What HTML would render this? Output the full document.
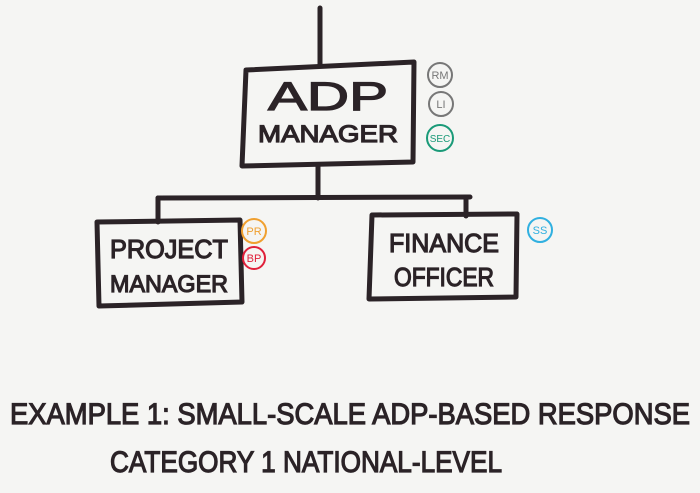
<!DOCTYPE html>
<html><head><style>
html,body{margin:0;padding:0;background:#f5f5f3;}
svg{display:block}
text{font-family:"Liberation Sans",sans-serif;fill:#2b2327}
.m{stroke:#2b2327;stroke-width:1.2}
</style></head><body>
<svg width="700" height="493" viewBox="0 0 700 493">
<rect width="700" height="493" fill="#f5f5f3"/>
<g stroke="#2b2327" stroke-width="5" fill="none" stroke-linecap="round" stroke-linejoin="round">
<path d="M320 8 L320 66"/>
<path d="M246 70 L414 62 L413 162 L242 166 Z"/>
<path d="M318 165 L318 198"/>
<path d="M158 198 L470 197"/>
<path d="M158 198 L158 222"/>
<path d="M466 197 L466 216"/>
<path d="M97 222 L240 220 L242 302 L99 306 Z"/>
<path d="M372 215 L517 214 L516 297 L369 299 Z"/>
</g>
<g fill="none" stroke-width="2">
<circle cx="440" cy="75" r="12" stroke="#777"/>
<circle cx="441" cy="104" r="12" stroke="#777"/>
<circle cx="440" cy="138" r="13" stroke="#1a9a78"/>
<circle cx="254" cy="231" r="12" stroke="#f0a030"/>
<circle cx="254" cy="258" r="11" stroke="#e0203a"/>
<circle cx="540" cy="230" r="12" stroke="#30b0e0"/>
</g>
<g font-size="11" text-anchor="middle">
<text x="440" y="79" style="fill:#777">RM</text>
<text x="441" y="108" style="fill:#777">LI</text>
<text x="440" y="142" style="fill:#1a9a78" font-size="10">SEC</text>
<text x="254" y="235" style="fill:#f0a030">PR</text>
<text x="254" y="262" style="fill:#e0203a">BP</text>
<text x="540" y="234" style="fill:#30b0e0">SS</text>
</g>
<text class="m" x="328" y="110" font-size="40" text-anchor="middle" textLength="120" lengthAdjust="spacingAndGlyphs">ADP</text>
<text class="m" x="328" y="142" font-size="24" text-anchor="middle" textLength="140" lengthAdjust="spacingAndGlyphs">MANAGER</text>
<text class="m" x="169" y="258" font-size="26" text-anchor="middle" textLength="118" lengthAdjust="spacingAndGlyphs">PROJECT</text>
<text class="m" x="169" y="292" font-size="24" text-anchor="middle" textLength="118" lengthAdjust="spacingAndGlyphs">MANAGER</text>
<text class="m" x="444" y="252" font-size="26" text-anchor="middle" textLength="110" lengthAdjust="spacingAndGlyphs">FINANCE</text>
<text class="m" x="444" y="286" font-size="26" text-anchor="middle" textLength="100" lengthAdjust="spacingAndGlyphs">OFFICER</text>
<text class="m" x="10" y="424" font-size="30" textLength="680" lengthAdjust="spacingAndGlyphs">EXAMPLE 1: SMALL-SCALE ADP-BASED RESPONSE</text>
<text class="m" x="110" y="472" font-size="30" textLength="392" lengthAdjust="spacingAndGlyphs">CATEGORY 1 NATIONAL-LEVEL</text>
</svg>
</body></html>
